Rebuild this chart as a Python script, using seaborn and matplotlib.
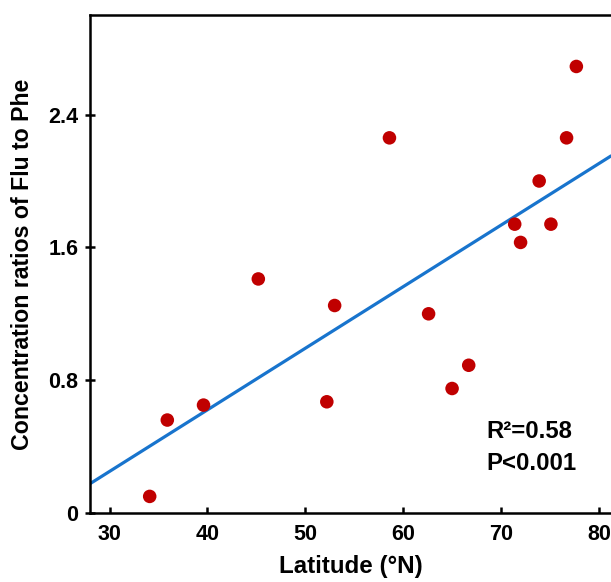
import matplotlib
matplotlib.use("Agg")
import matplotlib.pyplot as plt
import seaborn as sns
import pandas as pd

# values
latitude = [77.7, 58.6, 76.7, 73.9, 71.4, 75.1, 72.0, 45.2,
            53.0, 62.6, 66.7, 65.0, 52.2, 39.6, 35.9, 34.1]
flu_phe_ratio = [2.69, 2.26, 2.26, 2.00, 1.74, 1.74, 1.63, 1.41,
                 1.25, 1.20, 0.89, 0.75, 0.67, 0.65, 0.56, 0.10]
x_ticks = [30, 40, 50, 60, 70, 80]
y_ticks = [0, 0.8, 1.6, 2.4]
y_tick_labels = ["0", "0.8", "1.6", "2.4"]
stats_text = ["R\u00b2=0.58", "P<0.001"]

df = pd.DataFrame({"Latitude": latitude, "Ratio": flu_phe_ratio})

sns.set_style("white", {"xtick.bottom": True, "ytick.left": True,
                        "text.color": "black", "axes.labelcolor": "black",
                        "xtick.color": "black", "ytick.color": "black"})
plt.rcParams["font.family"] = ["Liberation Sans", "DejaVu Sans"]
plt.rcParams["font.weight"] = "bold"

fig = plt.figure(figsize=(6.11, 5.82), dpi=100)
ax = fig.add_axes([90 / 611, 69 / 582, 1 - 90 / 611, 498 / 582])
ax.set_xlim(28, 81.24)
ax.set_ylim(0, 3.0)

# regression line (fitted by seaborn, extended over the axis range)
sns.regplot(
    x="Latitude", y="Ratio", data=df, ax=ax, ci=None, truncate=False,
    scatter=False, line_kws={"color": "#1874CD", "linewidth": 2.3}
)
sns.scatterplot(
    x="Latitude", y="Ratio", data=df, ax=ax, color="#C00000",
    s=95, edgecolor="none", zorder=3
)

ax.set_xticks(x_ticks)
ax.set_yticks(y_ticks)
ax.set_yticklabels(y_tick_labels)
ax.tick_params(axis="x", direction="in", length=4, width=1.8,
               labelsize=15.5, pad=8, colors="black")
ax.tick_params(axis="y", direction="inout", length=7, width=1.8,
               labelsize=15.5, pad=5, colors="black")
for lab in ax.get_xticklabels() + ax.get_yticklabels():
    lab.set_fontweight("bold")

ax.set_xlabel("Latitude (\u00b0N)", fontsize=17.4, fontweight="bold",
              labelpad=7, color="black")
ax.set_ylabel("Concentration ratios of Flu to Phe", fontsize=16.7,
              fontweight="bold", labelpad=10, color="black")

for side in ["left", "bottom", "top"]:
    ax.spines[side].set_linewidth(1.8)
    ax.spines[side].set_color("black")
ax.spines["right"].set_visible(False)

ax.text(68.5, 0.49, stats_text[0], fontsize=17.2, fontweight="bold",
        va="center", color="black")
ax.text(68.5, 0.30, stats_text[1], fontsize=17.2, fontweight="bold",
        va="center", color="black")

fig.savefig("out.png", dpi=100)
